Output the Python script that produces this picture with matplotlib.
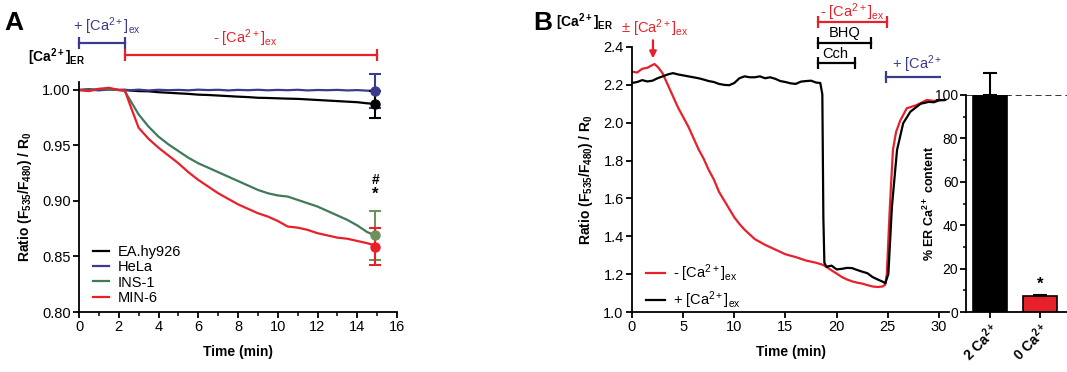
import matplotlib
matplotlib.use("Agg")
import matplotlib.pyplot as plt
from matplotlib.transforms import Bbox, TransformedBbox
from matplotlib.ticker import MultipleLocator

plt.rcParams['font.family'] = ['Liberation Sans', 'DejaVu Sans']
plt.rcParams['mathtext.fontset'] = 'custom'
plt.rcParams['mathtext.rm'] = 'Liberation Sans'
plt.rcParams['mathtext.it'] = 'Liberation Sans'
plt.rcParams['mathtext.bf'] = 'Liberation Sans:bold'
plt.rcParams['mathtext.default'] = 'regular'
plt.rcParams['font.size'] = 10

# ---------------- Panel A data ----------------
tA = [0, 0.5, 1, 1.5, 2, 2.3, 2.6, 3, 3.5, 4, 4.5, 5, 5.5, 6, 6.5, 7, 7.5, 8, 8.5,
      9, 9.5, 10, 10.5, 11, 11.5, 12, 12.5, 13, 13.5, 14, 14.5, 14.9]
ea_hy926 = [1.000, 1.0005, 1.000, 1.001, 1.000, 1.000, 0.9995, 0.999, 0.9988, 0.998, 0.9975,
            0.997, 0.9965, 0.9958, 0.9955, 0.995, 0.9945, 0.994, 0.9936, 0.993, 0.9928, 0.9925,
            0.9922, 0.992, 0.9915, 0.991, 0.9905, 0.990, 0.9895, 0.989, 0.988, 0.9875]
hela = [1.000, 1.0003, 0.9997, 1.0004, 1.000, 1.0002, 0.9998, 1.0003, 0.9996, 1.0002, 0.9998,
        1.0001, 0.9997, 1.0003, 0.9999, 1.0002, 0.9996, 1.0001, 0.9998, 1.0002, 0.9997, 1.0001,
        0.9998, 1.0002, 0.9996, 1.0000, 0.9998, 1.0001, 0.9996, 0.9999, 0.9994, 0.9993]
ins1 = [1.000, 0.9995, 1.001, 1.0005, 1.000, 0.999, 0.990, 0.978, 0.967, 0.958, 0.951,
        0.945, 0.939, 0.934, 0.930, 0.926, 0.922, 0.918, 0.914, 0.910, 0.907, 0.905,
        0.904, 0.901, 0.898, 0.895, 0.891, 0.887, 0.883, 0.878, 0.872, 0.869]
min6 = [1.000, 0.999, 1.001, 1.002, 1.000, 1.000, 0.985, 0.966, 0.956, 0.948, 0.941,
        0.934, 0.926, 0.919, 0.913, 0.907, 0.902, 0.897, 0.893, 0.889, 0.886, 0.882,
        0.877, 0.876, 0.874, 0.871, 0.869, 0.867, 0.866, 0.864, 0.862, 0.860]
endA_t = 14.9
endA_mean = {'EA.hy926': 0.987, 'HeLa': 0.999, 'INS-1': 0.869, 'MIN-6': 0.859}
endA_err = {'EA.hy926': 0.0125, 'HeLa': 0.015, 'INS-1': 0.022, 'MIN-6': 0.0165}

# ---------------- Panel B data ----------------
tB_red = [0, 0.5, 1, 1.5, 2, 2.2, 2.6, 3, 3.5, 4, 4.5, 5, 5.5, 6, 6.5, 7, 7.5, 8, 8.5,
          9, 9.5, 10, 10.5, 11, 11.5, 12, 13, 14, 15, 16, 17, 18, 18.7, 19, 19.5, 20,
          20.5, 21, 21.5, 22, 22.5, 23, 23.5, 24, 24.5, 24.75, 24.9, 25.2, 25.5, 25.8,
          26.2, 26.85, 27.8, 28.8, 29.5, 30, 30.6]
ratio_minus = [2.27, 2.265, 2.285, 2.29, 2.305, 2.31, 2.29, 2.26, 2.20, 2.14, 2.08, 2.03,
               1.98, 1.92, 1.86, 1.81, 1.75, 1.70, 1.635, 1.59, 1.545, 1.50, 1.465, 1.435,
               1.41, 1.385, 1.355, 1.33, 1.305, 1.29, 1.272, 1.26, 1.248, 1.238, 1.22, 1.203,
               1.185, 1.172, 1.162, 1.155, 1.15, 1.142, 1.135, 1.132, 1.135, 1.145, 1.20, 1.556,
               1.856, 1.95, 2.01, 2.076, 2.093, 2.12, 2.115, 2.12, 2.12]
tB_black = [0, 0.5, 1, 1.5, 2, 2.5, 3, 3.5, 4, 4.5, 5, 5.5, 6, 6.5, 7, 7.5, 8, 8.5, 9,
            9.5, 10, 10.5, 11, 11.5, 12, 12.5, 13, 13.5, 14, 14.5, 15, 15.5, 16, 16.5, 17,
            17.5, 18, 18.4, 18.6, 18.7, 18.8, 19, 19.5, 20, 20.5, 21, 21.5, 22, 22.5, 23,
            23.5, 24, 24.5, 24.75, 25.05, 25.4, 25.9, 26.5, 27.2, 28.2, 29, 29.5, 30, 30.6]
ratio_plus = [2.21, 2.215, 2.225, 2.218, 2.222, 2.235, 2.245, 2.255, 2.262, 2.255, 2.25,
              2.245, 2.24, 2.235, 2.228, 2.22, 2.215, 2.205, 2.20, 2.198, 2.21, 2.235, 2.245,
              2.24, 2.24, 2.245, 2.235, 2.24, 2.232, 2.22, 2.215, 2.208, 2.205, 2.217, 2.22,
              2.222, 2.212, 2.21, 2.15, 1.5, 1.26, 1.239, 1.245, 1.225, 1.228, 1.233, 1.232,
              1.222, 1.213, 1.205, 1.185, 1.172, 1.16, 1.152, 1.20, 1.556, 1.856, 1.997, 2.058,
              2.10, 2.11, 2.108, 2.118, 2.12]

inset_labels = ['2 Ca$^{2+}$', '0 Ca$^{2+}$']
inset_values = [100, 7.5]
inset_err = [10, 0.4]

# ---------------- Figure ----------------
W, H = 1067, 372
fig = plt.figure(figsize=(W / 100, H / 100), dpi=100)

def fx(px):
    return px / W

def fy(py):
    return 1 - py / H

BLUE = '#3b3b8e'
GREEN = '#3f7a5a'
GREEN_E = '#6f8f5c'
RED = '#e8202a'
EX_MINUS = r'- [Ca$^{2+}$]$_{\mathrm{ex}}$'
EX_PLUS = r'+ [Ca$^{2+}$]$_{\mathrm{ex}}$'

# ---- Panel A ----
axA = fig.add_axes([fx(79), fy(312), fx(397) - fx(79), fy(82) - fy(312)])
axA.plot(tA, ea_hy926, color='black', lw=1.6, label='EA.hy926')
axA.plot(tA, hela, color=BLUE, lw=1.6, label='HeLa')
axA.plot(tA, ins1, color=GREEN, lw=1.6, label='INS-1')
axA.plot(tA, min6, color=RED, lw=1.6, label='MIN-6')
for name, c in [('HeLa', BLUE), ('EA.hy926', 'black'), ('INS-1', GREEN_E), ('MIN-6', RED)]:
    axA.errorbar([endA_t], [endA_mean[name]], yerr=[endA_err[name]], fmt='o', color=c,
                 ms=6.5, capsize=4.5, elinewidth=1.5, capthick=1.5, clip_on=False, zorder=5)
axA.text(endA_t, 0.919, '#', ha='center', va='center', fontsize=10, fontweight='bold')
axA.text(endA_t, 0.906, '*', ha='center', va='center', fontsize=12, fontweight='bold')
axA.set_xlim(0, 16)
axA.set_ylim(0.8, 1.0072)
axA.set_xticks(range(0, 17, 2))
axA.xaxis.set_minor_locator(MultipleLocator(1))
axA.set_yticks([0.80, 0.85, 0.90, 0.95, 1.00])
axA.set_yticklabels(['0.80', '0.85', '0.90', '0.95', '1.00'])
axA.spines[['top', 'right']].set_visible(False)
for sp in axA.spines.values():
    sp.set_linewidth(1.3)
axA.tick_params(which='major', direction='out', length=4, width=1.3, labelsize=10.5, pad=2)
axA.tick_params(which='minor', direction='out', length=3, width=1.1)
axA.set_xlabel('Time (min)', fontweight='bold', fontsize=10, labelpad=8)
axA.set_ylabel(r'$\mathbf{Ratio\ (F_{535}/F_{480})\ /\ R_0}$', fontsize=10, labelpad=6)
legA = axA.legend(loc='lower left', bbox_to_anchor=(0.02, 0.0), frameon=False, fontsize=10.5,
                  handlelength=1.15, handletextpad=0.55, labelspacing=0.08, borderpad=0)

# annotations on A
axA.plot([0, 2.3], [1.0423, 1.0423], color=BLUE, lw=1.6, marker='|', ms=8, mew=1.6, clip_on=False)
axA.text(1.4, 1.0475, EX_PLUS, color=BLUE, ha='center', va='bottom', fontsize=10.5)
axA.plot([2.3, 15], [1.0315, 1.0315], color=RED, lw=1.6, marker='|', ms=8, mew=1.6, clip_on=False)
axA.text(8.35, 1.037, EX_MINUS, color=RED, ha='center', va='bottom', fontsize=10.5)
fig.text(fx(28), fy(57), r'$\mathbf{[Ca^{2+}]_{ER}}$', ha='left', va='center', fontsize=10)
fig.text(fx(4), fy(30), 'A', fontsize=19, fontweight='bold', ha='left', va='baseline')

# ---- Panel B ----
axB = fig.add_axes([fx(632), fy(312), 31 * 10.233 / W, fy(47) - fy(312)])
axB.plot(tB_red, ratio_minus, color=RED, lw=1.6, label=EX_MINUS)
axB.plot(tB_black, ratio_plus, color='black', lw=1.6, label=EX_PLUS)
axB.set_xlim(0, 31)
axB.set_ylim(1.0, 2.4)
axB.set_xticks(range(0, 31, 5))
axB.set_yticks([1.0, 1.2, 1.4, 1.6, 1.8, 2.0, 2.2, 2.4])
axB.spines[['top', 'right']].set_visible(False)
for sp in axB.spines.values():
    sp.set_linewidth(1.3)
axB.tick_params(which='major', direction='out', length=4, width=1.3, labelsize=10.5, pad=2)
axB.set_xlabel('Time (min)', fontweight='bold', fontsize=10, labelpad=8)
axB.set_ylabel(r'$\mathbf{Ratio\ (F_{535}/F_{480})\ /\ R_0}$', fontsize=10, labelpad=6)
axB.legend(loc='lower left', bbox_to_anchor=(0.02, -0.025), frameon=False, fontsize=10.5,
           handlelength=1.3, handletextpad=0.6, labelspacing=0.4, borderpad=0)

# annotations on B
axB.text(2.25, 2.50, '± [Ca$^{2+}$]$_{\\mathrm{ex}}$', color=RED, ha='center', va='center',
         fontsize=10.5, clip_on=False)
axB.annotate('', xy=(2.05, 2.325), xytext=(2.05, 2.45),
             arrowprops=dict(arrowstyle='-|>', color=RED, lw=1.6, mutation_scale=10),
             annotation_clip=False)
axB.plot([18.2, 24.9], [2.532, 2.532], color=RED, lw=1.6, marker='|', ms=8, mew=1.6, clip_on=False)
axB.text(21.55, 2.585, EX_MINUS, color=RED, ha='center', va='center', fontsize=10.5,
         clip_on=False)
axB.plot([18.2, 23.4], [2.421, 2.421], color='black', lw=1.6, marker='|', ms=8, mew=1.6, clip_on=False)
axB.text(20.8, 2.472, 'BHQ', color='black', ha='center', va='center', fontsize=10.5, clip_on=False)
axB.plot([18.2, 21.8], [2.315, 2.315], color='black', lw=1.6, marker='|', ms=8, mew=1.6, clip_on=False)
axB.text(19.85, 2.362, 'Cch', color='black', ha='center', va='center', fontsize=10.5, clip_on=False)
clipbox = TransformedBbox(Bbox.from_extents(0, 0, fx(941), 1), fig.transFigure)
bl, = axB.plot([24.8, 33], [2.24, 2.24], color=BLUE, lw=1.6, marker='|', ms=8, mew=1.6, clip_on=True)
bl.set_clip_box(clipbox)
bt = axB.text(25.4, 2.31, EX_PLUS, color=BLUE, ha='left', va='center', fontsize=10.5,
              clip_on=True)
bt.set_clip_box(clipbox)
fig.text(fx(556), fy(22), r'$\mathbf{[Ca^{2+}]_{ER}}$', ha='left', va='center', fontsize=10)
fig.text(fx(533), fy(30), 'B', fontsize=19, fontweight='bold', ha='left', va='baseline')

# ---- Inset bar chart ----
axI = fig.add_axes([fx(966), fy(312), fx(1067) - fx(966), fy(95) - fy(312)])
axI.patch.set_alpha(0)
axI.bar([0, 1], inset_values, width=0.68, color=['black', RED], edgecolor='black', lw=1.2,
        yerr=[[0, 0], inset_err], capsize=5, error_kw=dict(elinewidth=1.5, capthick=1.5, clip_on=False))
axI.axhline(100, color='black', ls='--', lw=1.1, dashes=(4, 2.5))
axI.text(1, 9.5, '*', ha='center', va='bottom', fontsize=12, fontweight='bold')
axI.set_xlim(-0.48, 1.54)
axI.set_ylim(0, 100)
axI.set_yticks(range(0, 101, 20))
axI.yaxis.set_minor_locator(MultipleLocator(10))
axI.set_xticks([0, 1])
axI.set_xticklabels(inset_labels, rotation=45, ha='right', rotation_mode='anchor', fontsize=8.5,
                    fontweight='bold')
axI.spines[['top', 'right']].set_visible(False)
for sp in axI.spines.values():
    sp.set_linewidth(1.3)
axI.tick_params(which='major', direction='out', length=4, width=1.3, labelsize=10, pad=1.5)
axI.tick_params(which='minor', direction='out', length=2.5, width=1.1)
axI.set_ylabel(r'$\mathbf{\%\ ER\ Ca^{2+}\ content}$', fontsize=9)
axI.yaxis.set_label_coords(-0.29, 0.5)

fig.savefig('out.png', dpi=100)
